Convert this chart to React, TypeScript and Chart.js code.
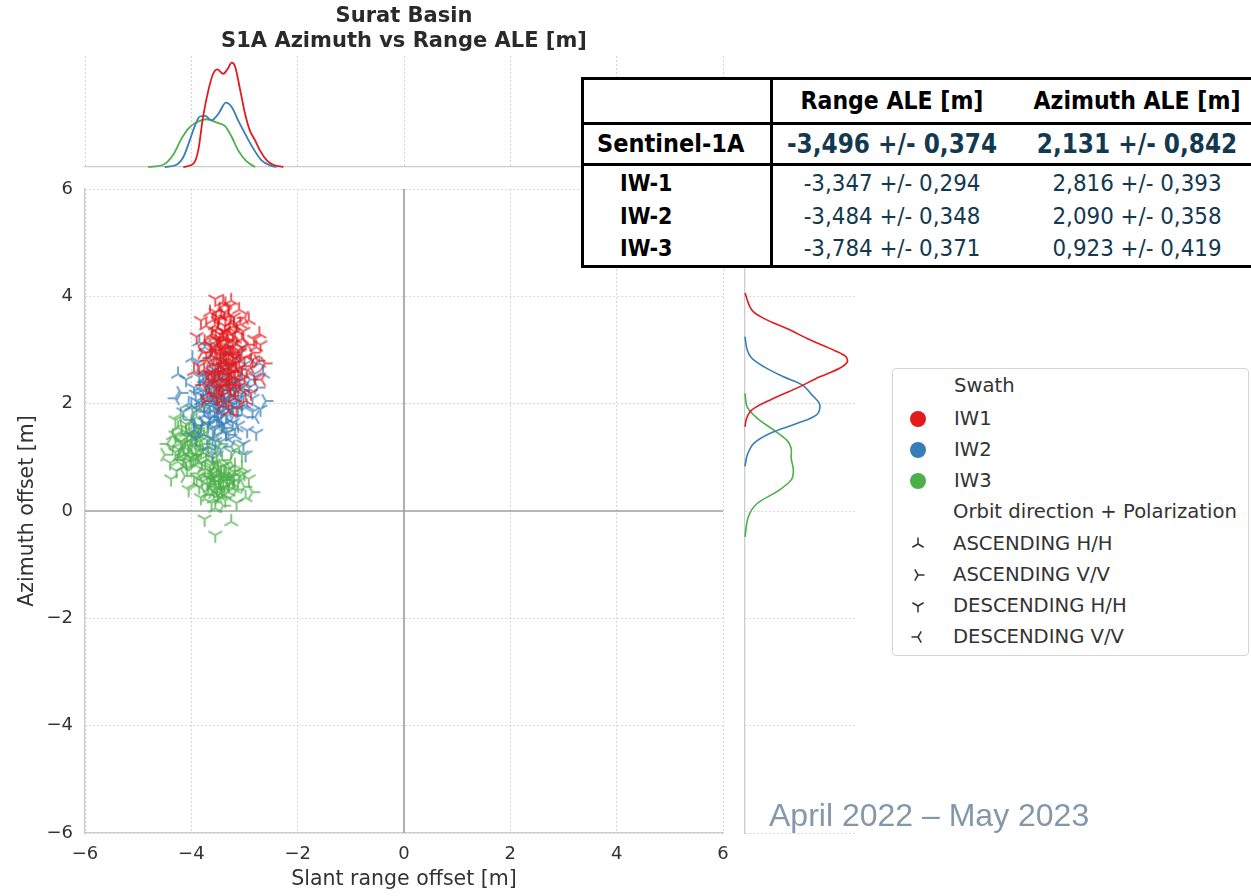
import React, { useEffect, useRef } from 'react';
import { Chart, registerables } from 'chart.js';

Chart.register(...registerables);

// ---------------- data ----------------
const swathLabels = ['IW1', 'IW2', 'IW3'];
const swathColors = ['#e41a1c', '#377eb8', '#4daf4a'];
const orbitLabels = ['ASCENDING H/H', 'ASCENDING V/V', 'DESCENDING H/H', 'DESCENDING V/V'];
const axisTicks = [-6, -4, -2, 0, 2, 4, 6];

// [slant range offset, azimuth offset, orbit/polarisation index]
const iw1Points = [
  [-3.52, 2.95, 2], [-3.48, 3.10, 0], [-3.55, 2.70, 2], [-3.60, 3.30, 0], [-3.45, 2.55, 1], [-3.50, 3.55, 2], [-3.40, 2.85, 3], [-3.58, 2.40, 0], [-3.62, 3.05, 2], [-3.47, 3.75, 0],
  [-3.22, 2.90, 2], [-3.18, 3.20, 0], [-3.25, 2.60, 1], [-3.15, 2.75, 2], [-3.28, 3.40, 0], [-3.20, 2.35, 3], [-3.12, 3.00, 2], [-3.30, 3.65, 0], [-3.24, 2.15, 1], [-3.16, 3.50, 2],
  [-3.35, 2.80, 0], [-3.38, 3.00, 2], [-3.33, 2.45, 3], [-3.42, 3.25, 0], [-3.30, 2.70, 2], [-3.36, 3.85, 0], [-3.40, 2.25, 1], [-3.32, 3.15, 2], [-3.44, 2.05, 0], [-3.37, 3.45, 2],
  [-3.70, 2.80, 3], [-3.75, 3.15, 0], [-3.68, 2.55, 2], [-3.80, 2.95, 1], [-3.72, 3.45, 0], [-3.85, 2.70, 2], [-3.65, 3.70, 0], [-3.78, 2.35, 3], [-3.90, 3.25, 2], [-3.66, 2.15, 0],
  [-3.00, 2.85, 2], [-2.95, 3.10, 1], [-3.05, 2.55, 0], [-2.90, 2.70, 3], [-3.02, 3.35, 2], [-2.85, 2.95, 1], [-3.08, 2.25, 0], [-2.80, 2.50, 2], [-2.92, 3.55, 0], [-2.75, 2.80, 1],
  [-2.70, 3.10, 2], [-2.68, 2.45, 3], [-2.62, 2.75, 1], [-2.72, 3.30, 0], [-2.88, 2.20, 2], [-3.10, 3.75, 0], [-3.55, 3.95, 2], [-3.25, 3.92, 0], [-3.45, 1.95, 1], [-3.15, 1.90, 2],
  [-3.58, 2.20, 3], [-3.50, 3.40, 0], [-3.28, 3.05, 2], [-3.42, 2.65, 1], [-3.62, 2.60, 2], [-3.20, 2.50, 0], [-3.08, 2.95, 2], [-3.35, 3.30, 3], [-3.55, 2.85, 0], [-3.12, 2.65, 2],
  [-3.95, 2.60, 0], [-3.82, 3.55, 2], [-2.98, 2.05, 0], [-2.82, 3.20, 2], [-3.48, 2.30, 2], [-3.30, 1.85, 0], [-3.75, 2.05, 1], [-3.00, 3.60, 3], [-3.60, 3.55, 0], [-3.30, 3.80, 2],
  [-3.46, 2.78, 0], [-3.34, 2.62, 2], [-3.26, 2.95, 0], [-3.52, 3.20, 2], [-3.40, 3.05, 1], [-3.18, 2.58, 2], [-3.30, 2.40, 0], [-3.56, 2.55, 2], [-3.44, 3.62, 0], [-3.22, 3.30, 2],
  [-3.14, 3.10, 0], [-3.38, 2.18, 2], [-3.58, 3.00, 1], [-3.28, 2.82, 3], [-3.48, 2.45, 0], [-3.20, 3.62, 2], [-3.64, 2.90, 0], [-3.10, 2.42, 2], [-3.05, 3.20, 0], [-3.36, 3.58, 2],
  [-3.50, 2.62, 0], [-3.24, 2.72, 2], [-3.42, 2.92, 1], [-3.32, 3.22, 0], [-3.15, 2.95, 2], [-3.62, 3.25, 0], [-3.54, 3.70, 2], [-3.40, 3.90, 0], [-3.26, 2.28, 2], [-3.66, 2.42, 1],
  [-2.96, 2.62, 2], [-3.00, 2.38, 0], [-2.85, 2.82, 2], [-2.78, 3.05, 0], [-3.72, 2.95, 2], [-3.76, 2.62, 0], [-3.46, 3.30, 2], [-3.18, 2.10, 0], [-3.52, 2.10, 2], [-3.08, 3.48, 0],
  [-3.44, 2.88, 2], [-3.36, 2.98, 0], [-3.28, 2.55, 2], [-3.50, 3.05, 0], [-3.32, 2.72, 1], [-3.22, 3.12, 2], [-3.58, 2.75, 0], [-3.40, 3.35, 2], [-3.26, 3.50, 0], [-3.46, 2.38, 2],
  [-3.54, 3.25, 0], [-3.18, 2.85, 2], [-3.34, 3.10, 0], [-3.60, 2.50, 2], [-3.14, 3.35, 0], [-3.30, 2.90, 2], [-3.42, 2.48, 0], [-3.38, 3.70, 2], [-3.24, 2.40, 0], [-3.48, 3.60, 2],
  [-3.56, 3.45, 0], [-3.10, 2.80, 2], [-3.20, 3.45, 0], [-3.52, 2.28, 2], [-3.34, 2.35, 0], [-3.64, 3.10, 2], [-3.28, 3.30, 0], [-3.46, 3.15, 2], [-3.16, 2.62, 0], [-3.40, 2.70, 2],
];

const iw2Points = [
  [-3.35, 2.10, 2], [-3.30, 1.85, 0], [-3.40, 2.35, 1], [-3.25, 2.00, 2], [-3.45, 1.70, 3], [-3.32, 2.55, 0], [-3.20, 2.25, 2], [-3.38, 1.55, 1], [-3.28, 2.70, 2], [-3.42, 1.95, 0],
  [-3.80, 2.15, 2], [-3.85, 1.90, 0], [-3.75, 2.40, 3], [-3.90, 2.05, 2], [-3.78, 1.65, 1], [-3.70, 2.60, 0], [-3.95, 2.30, 2], [-3.82, 1.45, 0], [-3.88, 2.75, 2], [-3.72, 1.85, 3],
  [-3.60, 2.05, 0], [-3.55, 2.30, 2], [-3.62, 1.75, 1], [-3.50, 2.50, 0], [-3.58, 1.50, 2], [-3.65, 2.85, 3], [-3.52, 1.90, 2], [-3.68, 2.20, 0], [-3.48, 2.70, 1], [-3.55, 1.30, 2],
  [-3.10, 2.10, 2], [-3.05, 1.80, 0], [-3.15, 2.40, 3], [-3.00, 2.25, 1], [-3.12, 1.60, 2], [-2.95, 1.95, 0], [-3.08, 2.60, 2], [-2.90, 2.45, 1], [-3.18, 1.40, 0], [-2.85, 2.10, 2],
  [-2.80, 1.75, 3], [-2.75, 2.30, 1], [-2.70, 1.90, 2], [-2.65, 2.55, 0], [-2.60, 2.05, 1], [-2.95, 1.50, 2], [-2.88, 2.80, 0], [-3.02, 1.25, 2], [-4.05, 2.00, 0], [-4.10, 2.45, 2],
  [-4.00, 1.70, 3], [-4.20, 2.20, 1], [-3.98, 2.85, 0], [-4.15, 1.85, 2], [-4.25, 2.55, 0], [-3.92, 1.35, 2], [-3.30, 3.00, 0], [-3.55, 3.10, 2], [-3.75, 3.05, 0], [-3.20, 2.85, 1],
  [-3.45, 1.15, 2], [-3.70, 1.20, 0], [-3.25, 1.20, 3], [-3.60, 1.05, 2], [-3.35, 1.35, 0], [-2.98, 1.05, 2], [-3.90, 1.60, 1], [-3.40, 2.90, 2], [-3.15, 1.95, 0], [-3.62, 2.45, 2],
  [-3.48, 2.15, 0], [-3.35, 2.80, 3], [-3.78, 2.55, 2], [-2.72, 2.75, 0], [-3.05, 3.05, 2], [-4.30, 2.10, 3], [-3.85, 3.15, 0], [-3.22, 1.65, 2], [-3.52, 1.60, 0], [-2.78, 1.45, 2],
  [-3.40, 2.05, 2], [-3.58, 2.15, 0], [-3.50, 1.80, 2], [-3.45, 2.25, 1], [-3.30, 2.30, 0], [-3.65, 1.95, 2], [-3.35, 1.65, 0], [-3.72, 2.35, 2], [-3.25, 2.45, 0], [-3.55, 2.62, 2],
  [-3.20, 1.78, 1], [-3.68, 1.60, 2], [-3.82, 2.05, 0], [-3.12, 2.25, 2], [-3.42, 1.48, 0], [-3.60, 2.40, 3], [-3.48, 1.95, 2], [-3.30, 2.05, 0], [-3.38, 2.62, 2], [-3.75, 1.78, 0],
  [-3.92, 2.18, 2], [-3.02, 2.00, 0], [-2.92, 2.30, 2], [-3.15, 1.55, 0], [-3.85, 2.50, 2], [-3.10, 2.80, 0], [-3.60, 1.35, 2], [-3.28, 1.42, 1], [-2.85, 1.85, 2], [-4.00, 1.95, 0],
  [-3.52, 2.38, 2], [-3.32, 2.20, 0], [-3.44, 1.85, 2], [-3.66, 2.20, 0], [-3.22, 1.98, 2], [-3.56, 1.70, 0], [-3.78, 2.22, 2], [-3.05, 2.45, 0], [-2.82, 2.55, 2], [-3.95, 1.50, 0],
  [-3.42, 2.12, 0], [-3.54, 2.02, 2], [-3.36, 1.92, 0], [-3.62, 2.28, 2], [-3.28, 2.15, 0], [-3.48, 1.72, 2], [-3.70, 2.05, 0], [-3.22, 2.38, 2], [-3.58, 1.88, 0], [-3.32, 1.78, 2],
  [-3.46, 2.48, 0], [-3.66, 1.72, 2], [-3.18, 2.10, 0], [-3.40, 2.28, 2], [-3.52, 2.20, 0], [-3.26, 1.88, 2], [-3.74, 2.48, 0], [-3.12, 1.90, 2], [-3.60, 2.58, 0], [-3.38, 1.62, 2],
  [-3.84, 2.30, 0], [-3.06, 2.18, 2], [-3.44, 2.60, 0], [-3.56, 1.55, 2], [-3.30, 2.50, 0], [-3.76, 1.95, 2], [-3.16, 2.32, 0], [-3.50, 2.00, 2], [-3.64, 2.10, 0], [-3.34, 2.40, 2],
];

const iw3Points = [
  [-4.05, 1.20, 2], [-4.10, 1.45, 0], [-3.95, 1.05, 1], [-4.20, 1.30, 2], [-4.00, 1.65, 0], [-4.15, 0.95, 3], [-3.90, 1.35, 2], [-4.25, 1.55, 0], [-4.08, 0.80, 2], [-3.85, 1.15, 1],
  [-4.30, 1.10, 2], [-4.35, 1.40, 0], [-4.40, 0.90, 2], [-4.45, 1.25, 3], [-4.20, 1.80, 0], [-3.98, 1.90, 2], [-4.12, 0.65, 1], [-3.80, 1.50, 0], [-4.28, 0.75, 2], [-3.92, 0.85, 0],
  [-3.55, 0.55, 2], [-3.50, 0.75, 0], [-3.60, 0.35, 1], [-3.45, 0.60, 2], [-3.65, 0.70, 3], [-3.40, 0.45, 0], [-3.58, 0.90, 2], [-3.48, 0.25, 1], [-3.70, 0.50, 2], [-3.35, 0.70, 0],
  [-3.30, 0.50, 2], [-3.25, 0.75, 1], [-3.38, 0.30, 0], [-3.20, 0.55, 2], [-3.28, 0.95, 3], [-3.15, 0.40, 1], [-3.10, 0.65, 2], [-3.05, 0.80, 0], [-3.00, 0.45, 1], [-2.92, 0.60, 2],
  [-3.75, 0.65, 0], [-3.80, 0.90, 2], [-3.72, 0.30, 1], [-3.85, 0.45, 2], [-3.68, 1.05, 0], [-3.62, 0.15, 2], [-3.78, 1.25, 1], [-3.52, 1.05, 2], [-3.42, 0.95, 0], [-3.88, 0.70, 3],
  [-3.55, 0.05, 0], [-3.75, -0.15, 2], [-3.25, -0.20, 0], [-3.55, -0.45, 2], [-3.40, 0.10, 1], [-3.15, 0.15, 2], [-3.95, 0.50, 0], [-4.05, 0.40, 2], [-2.85, 0.35, 1], [-3.05, 1.05, 2],
  [-3.60, 1.35, 0], [-3.70, 1.60, 2], [-3.45, 1.25, 1], [-3.35, 1.45, 2], [-3.90, 1.75, 0], [-4.30, 1.70, 2], [-4.50, 1.05, 1], [-4.18, 1.10, 0], [-4.02, 1.00, 2], [-3.95, 1.45, 3],
  [-3.65, 0.85, 2], [-3.48, 0.45, 0], [-3.32, 0.60, 2], [-3.18, 0.85, 0], [-3.62, 0.55, 1], [-3.82, 0.25, 2], [-2.98, 0.25, 0], [-3.10, 1.20, 2], [-3.75, 1.95, 0], [-4.38, 0.60, 2],
  [-4.02, 1.28, 2], [-4.12, 1.18, 0], [-3.96, 1.22, 1], [-4.08, 1.38, 2], [-4.18, 1.45, 0], [-3.88, 1.02, 2], [-4.22, 1.02, 0], [-4.00, 0.92, 2], [-3.94, 1.58, 0], [-4.10, 1.62, 2],
  [-4.28, 1.30, 1], [-3.84, 1.30, 2], [-4.15, 0.82, 0], [-4.35, 1.18, 2], [-3.78, 1.08, 0], [-3.56, 0.62, 2], [-3.48, 0.68, 0], [-3.62, 0.78, 2], [-3.40, 0.58, 1], [-3.52, 0.40, 2],
  [-3.66, 0.42, 0], [-3.44, 0.82, 2], [-3.34, 0.48, 0], [-3.28, 0.62, 2], [-3.58, 0.22, 0], [-3.70, 0.62, 2], [-3.22, 0.42, 0], [-3.38, 0.85, 2], [-3.50, 0.50, 3], [-3.74, 0.80, 0],
  [-3.60, 0.98, 2], [-3.30, 0.35, 0], [-3.12, 0.55, 2], [-3.45, 0.32, 0], [-3.80, 0.55, 2], [-3.72, 0.95, 0], [-3.82, 1.10, 2], [-3.66, 1.20, 0], [-3.90, 0.62, 2], [-3.76, 1.42, 0],
  [-3.55, 1.20, 2], [-3.86, 0.90, 0], [-3.25, 1.10, 2], [-3.18, 0.70, 0], [-3.00, 0.70, 2],
  [-4.06, 1.10, 0], [-4.16, 1.25, 2], [-3.98, 1.35, 0], [-4.24, 1.15, 2], [-4.04, 1.50, 0], [-3.92, 1.18, 2], [-4.14, 1.05, 0], [-4.30, 1.42, 2], [-3.86, 1.40, 0], [-4.10, 0.90, 2],
  [-4.20, 1.60, 0], [-3.96, 0.98, 2], [-4.00, 1.40, 2], [-4.26, 0.92, 0], [-3.88, 1.55, 2],
  [-3.58, 0.48, 0], [-3.46, 0.52, 2], [-3.52, 0.66, 0], [-3.64, 0.60, 2], [-3.38, 0.64, 0], [-3.42, 0.40, 2], [-3.56, 0.80, 0], [-3.30, 0.78, 2], [-3.68, 0.34, 0], [-3.50, 0.30, 2],
  [-3.24, 0.52, 0], [-3.36, 0.20, 2], [-3.60, 0.70, 2], [-3.44, 0.72, 0], [-3.20, 0.65, 2],
];

// top marginal density curves: [slant range offset, density]
const topIW1 = [
  [-4.15, 0], [-3.96, 0.03], [-3.87, 0.15], [-3.78, 0.45], [-3.68, 0.69], [-3.59, 0.84], [-3.51, 0.88], [-3.40, 0.84],
  [-3.32, 0.88], [-3.24, 0.94], [-3.18, 0.91], [-3.08, 0.69], [-2.99, 0.48], [-2.90, 0.33], [-2.80, 0.24], [-2.71, 0.15],
  [-2.58, 0.06], [-2.46, 0.02], [-2.27, 0],
];
const topIW2 = [
  [-4.50, 0], [-4.28, 0.02], [-4.15, 0.09], [-4.03, 0.24], [-3.93, 0.375], [-3.84, 0.455], [-3.74, 0.46], [-3.62, 0.42],
  [-3.49, 0.48], [-3.35, 0.58], [-3.24, 0.54], [-3.12, 0.42], [-2.99, 0.30], [-2.84, 0.17], [-2.68, 0.06], [-2.49, 0.01], [-2.40, 0],
];
const topIW3 = [
  [-4.81, 0], [-4.53, 0.02], [-4.34, 0.11], [-4.18, 0.26], [-4.03, 0.36], [-3.87, 0.41], [-3.71, 0.43], [-3.52, 0.40],
  [-3.37, 0.37], [-3.24, 0.27], [-3.12, 0.15], [-2.96, 0.05], [-2.80, 0],
];

// right marginal density curves: [density, azimuth offset]
const rightIW1 = [
  [0, 4.06], [0.06, 3.75], [0.17, 3.59], [0.38, 3.40], [0.59, 3.19], [0.77, 3.03], [0.91, 2.89], [0.93, 2.78],
  [0.86, 2.66], [0.68, 2.50], [0.47, 2.29], [0.23, 2.07], [0.06, 1.88], [0.015, 1.73], [0, 1.57],
];
const rightIW2 = [
  [0, 3.25], [0.02, 3.0], [0.06, 2.85], [0.17, 2.69], [0.35, 2.50], [0.52, 2.35], [0.61, 2.16], [0.68, 1.98],
  [0.65, 1.79], [0.47, 1.63], [0.23, 1.45], [0.08, 1.26], [0.02, 1.04], [0, 0.83],
];
const rightIW3 = [
  [0, 2.19], [0.02, 1.94], [0.11, 1.73], [0.26, 1.51], [0.38, 1.32], [0.42, 1.17], [0.42, 0.98], [0.44, 0.76],
  [0.42, 0.58], [0.29, 0.36], [0.11, 0.14], [0.03, -0.11], [0, -0.48],
];

const tableHeader = ['', 'Range ALE [m]', 'Azimuth ALE [m]'];
const tableTotal = ['Sentinel-1A', '-3,496 +/- 0,374', '2,131 +/- 0,842'];
const tableRows = [
  ['IW-1', '-3,347 +/- 0,294', '2,816 +/- 0,393'],
  ['IW-2', '-3,484 +/- 0,348', '2,090 +/- 0,358'],
  ['IW-3', '-3,784 +/- 0,371', '0,923 +/- 0,419'],
];

const titleLines = ['Surat Basin', 'S1A Azimuth vs Range ALE [m]'];
const xTitle = 'Slant range offset [m]';
const yTitle = 'Azimuth offset [m]';
const periodText = 'April 2022 \u2013 May 2023';

// ---------------- helpers ----------------
const TRI_DIRS = [
  [[0, -1], [-0.866, 0.5], [0.866, 0.5]], // tri up
  [[1, 0], [-0.5, -0.866], [-0.5, 0.866]], // tri right
  [[0, 1], [-0.866, -0.5], [0.866, -0.5]], // tri down
  [[-1, 0], [0.5, -0.866], [0.5, 0.866]], // tri left
];

function makeMarker(kind: number, color: string, alpha: number) {
  const size = 20;
  const r = 7.8;
  const c = document.createElement('canvas');
  c.width = size;
  c.height = size;
  const g = c.getContext('2d')!;
  g.globalAlpha = alpha;
  g.strokeStyle = color;
  g.lineWidth = 2;
  g.beginPath();
  for (const [dx, dy] of TRI_DIRS[kind]) {
    g.moveTo(size / 2, size / 2);
    g.lineTo(size / 2 + dx * r, size / 2 + dy * r);
  }
  g.stroke();
  return c;
}

const FONT = "'DejaVu Sans', sans-serif";
const TEXT = '#333333';
const GRID = '#d6d6d6';
const SPINE = '#cccccc';

const minusFmt = (v: any) => String(v).replace('-', '\u2212');

const zeroLines = {
  id: 'zeroLines',
  beforeDatasetsDraw(chart: any) {
    const { ctx, chartArea: a, scales } = chart;
    const px = scales.x.getPixelForValue(0);
    const py = scales.y.getPixelForValue(0);
    ctx.save();
    ctx.strokeStyle = '#a3a3a3';
    ctx.lineWidth = 1.7;
    ctx.beginPath();
    ctx.moveTo(px, a.top);
    ctx.lineTo(px, a.bottom);
    ctx.moveTo(a.left, py);
    ctx.lineTo(a.right, py);
    ctx.stroke();
    ctx.restore();
  },
};

function fixSize(w: number | null, h: number | null) {
  return (s: any) => {
    if (w !== null) s.width = w;
    if (h !== null) s.height = h;
    s.paddingLeft = 0;
    s.paddingRight = 0;
    s.paddingTop = 0;
    s.paddingBottom = 0;
  };
}

function TriIcon({ kind }: { kind: number }) {
  const r = 6.5;
  return (
    <svg width={20} height={20} style={{ position: 'absolute', left: 15, top: -10 }}>
      {TRI_DIRS[kind].map(([dx, dy], i) => (
        <line key={i} x1={10} y1={10} x2={10 + dx * r} y2={10 + dy * r} stroke="#333" strokeWidth={1.5} />
      ))}
    </svg>
  );
}

export default function App() {
  const topRef = useRef<HTMLCanvasElement>(null);
  const mainRef = useRef<HTMLCanvasElement>(null);
  const rightRef = useRef<HTMLCanvasElement>(null);

  useEffect(() => {
    const charts: Chart[] = [];
    const allPoints = [iw1Points, iw2Points, iw3Points];
    const markers = swathColors.map((c) => [0, 1, 2, 3].map((k) => makeMarker(k, c, 0.7)));

    // main scatter
    charts.push(
      new Chart(mainRef.current!, {
        type: 'scatter',
        data: {
          datasets: allPoints.map((pts, i) => ({
            label: swathLabels[i],
            data: pts.map((p) => ({ x: p[0], y: p[1] })),
            pointStyle: pts.map((p) => markers[i][p[2]]) as any,
            pointRadius: 4,
            order: i,
          })),
        },
        options: {
          animation: false,
          responsive: false,
          events: [],
          layout: { padding: { left: 0, right: 17, top: 19, bottom: 0 } },
          plugins: { legend: { display: false }, tooltip: { enabled: false } },
          scales: {
            x: {
              type: 'linear',
              min: -6,
              max: 6,
              afterBuildTicks: (s: any) => { s.ticks = axisTicks.map((v) => ({ value: v })); },
              afterFit: fixSize(null, 63),
              ticks: { callback: minusFmt, color: TEXT, font: { family: FONT, size: 18 }, padding: 11, maxRotation: 0 },
              grid: { color: GRID, lineWidth: 1, drawTicks: false },
              border: { display: true, color: SPINE, width: 1.3, dash: [2, 2] },
              title: { display: true, text: xTitle, color: TEXT, font: { family: FONT, size: 20.5 }, padding: { top: 0, bottom: 3.7 } },
            },
            y: {
              type: 'linear',
              min: -6,
              max: 6,
              afterBuildTicks: (s: any) => { s.ticks = axisTicks.map((v) => ({ value: v })); },
              afterFit: fixSize(85, null),
              ticks: { callback: minusFmt, color: TEXT, font: { family: FONT, size: 18 }, padding: 12 },
              grid: { color: GRID, lineWidth: 1, drawTicks: false },
              border: { display: true, color: SPINE, width: 1.3, dash: [2, 2] },
              title: { display: true, text: yTitle, color: TEXT, font: { family: FONT, size: 20.5 }, padding: { top: 15.7, bottom: 0 } },
            },
          },
        } as any,
        plugins: [zeroLines],
      })
    );

    // top marginal
    const topSets = [topIW1, topIW2, topIW3];
    charts.push(
      new Chart(topRef.current!, {
        type: 'scatter',
        data: {
          datasets: topSets.map((pts, i) => ({
            label: swathLabels[i],
            data: pts.map((p) => ({ x: p[0], y: p[1] })),
            showLine: true,
            borderColor: swathColors[i],
            borderWidth: 1.8,
            pointRadius: 0,
            cubicInterpolationMode: 'monotone',
            clip: false,
            order: i,
          })),
        },
        options: {
          animation: false,
          responsive: false,
          events: [],
          layout: { padding: { left: 85, right: 17, top: 0, bottom: 3 } },
          plugins: {
            legend: { display: false },
            tooltip: { enabled: false },
            title: {
              display: true,
              text: titleLines,
              color: '#2a2a2a',
              font: { family: FONT, size: 21, weight: 'bold', lineHeight: 1.2 },
              padding: { top: 4, bottom: 1.6 },
            },
          },
          scales: {
            x: {
              type: 'linear',
              min: -6,
              max: 6,
              afterBuildTicks: (s: any) => { s.ticks = axisTicks.map((v) => ({ value: v })); },
              afterFit: fixSize(null, 0),
              ticks: { display: false },
              grid: { color: GRID, lineWidth: 1, drawTicks: false },
              border: { display: true, color: SPINE, width: 1.3, dash: [2, 2] },
            },
            y: { type: 'linear', min: 0, max: 1, display: false },
          },
        } as any,
      })
    );

    // right marginal
    const rightSets = [rightIW1, rightIW2, rightIW3];
    charts.push(
      new Chart(rightRef.current!, {
        type: 'scatter',
        data: {
          datasets: rightSets.map((pts, i) => ({
            label: swathLabels[i],
            data: pts.map((p) => ({ x: p[0], y: p[1] })),
            showLine: true,
            borderColor: swathColors[i],
            borderWidth: 1.6,
            pointRadius: 0,
            tension: 0.35,
            clip: false,
            order: i,
          })),
        },
        options: {
          animation: false,
          responsive: false,
          events: [],
          layout: { padding: { left: 10, right: 10, top: 19, bottom: 63 } },
          plugins: { legend: { display: false }, tooltip: { enabled: false } },
          scales: {
            x: { type: 'linear', min: 0, max: 1, display: false },
            y: {
              type: 'linear',
              min: -6,
              max: 6,
              afterBuildTicks: (s: any) => { s.ticks = axisTicks.map((v) => ({ value: v })); },
              afterFit: fixSize(0, null),
              ticks: { display: false },
              grid: { color: GRID, lineWidth: 1, drawTicks: false },
              border: { display: true, color: SPINE, width: 1.3, dash: [2, 2] },
            },
          },
        } as any,
      })
    );

    return () => charts.forEach((c) => c.destroy());
  }, []);

  const tableFont = "'DejaVu Sans Condensed', 'DejaVu Sans', sans-serif";
  const teal = '#12394f';
  const col2 = { left: 772, width: 240 };
  const col3 = { left: 1017, width: 240 };
  const cell = (text: string, left: number, width: number, cy: number, style: any, align: any = 'center') => (
    <div
      style={{
        position: 'absolute',
        left,
        width,
        top: cy - 16,
        height: 32,
        lineHeight: '32px',
        textAlign: align,
        whiteSpace: 'nowrap',
        fontFamily: tableFont,
        ...style,
      }}
    >
      {text}
    </div>
  );

  const legendRows = [385, 418, 449, 480, 511, 543, 574, 605, 636];
  const legText = { position: 'absolute' as const, whiteSpace: 'nowrap' as const, fontFamily: FONT, fontSize: 19.6, color: TEXT, lineHeight: '24px' };

  return (
    <div style={{ position: 'fixed', left: 0, top: 0, width: 1251, height: 896, background: '#ffffff', overflow: 'hidden' }}>
      <canvas ref={topRef} width={740} height={170} style={{ position: 'absolute', left: 0, top: 0, width: 740, height: 170 }} />
      <canvas ref={mainRef} width={740} height={726} style={{ position: 'absolute', left: 0, top: 170, width: 740, height: 726 }} />
      <canvas ref={rightRef} width={130} height={726} style={{ position: 'absolute', left: 735, top: 170, width: 130, height: 726 }} />

      {/* statistics table */}
      <div style={{ position: 'absolute', left: 581, top: 77, width: 680, height: 191, background: '#fff', border: '3px solid #000', boxSizing: 'border-box' }} />
      <div style={{ position: 'absolute', left: 581, top: 122, width: 680, height: 3, background: '#000' }} />
      <div style={{ position: 'absolute', left: 581, top: 163, width: 680, height: 3, background: '#000' }} />
      <div style={{ position: 'absolute', left: 770, top: 77, width: 3, height: 191, background: '#000' }} />
      {cell(tableHeader[1], col2.left, col2.width, 101, { fontSize: 24.5, color: '#000', fontWeight: 'bold' })}
      {cell(tableHeader[2], col3.left, col3.width, 101, { fontSize: 24.5, color: '#000', fontWeight: 'bold' })}
      {cell(tableTotal[0], 597, 170, 144, { fontSize: 25, color: '#000', fontWeight: 'bold' }, 'left')}
      {cell(tableTotal[1], col2.left, col2.width, 144, { fontSize: 25.8, color: teal, fontWeight: 'bold' })}
      {cell(tableTotal[2], col3.left, col3.width, 144, { fontSize: 25.8, color: teal, fontWeight: 'bold' })}
      {tableRows.map((r, i) => {
        const cy = 183 + i * 32.5;
        return (
          <React.Fragment key={r[0]}>
            {cell(r[0], 620, 120, cy, { fontSize: 23, color: '#000', fontWeight: 'bold' }, 'left')}
            {cell(r[1], col2.left, col2.width, cy, { fontSize: 23.8, color: teal })}
            {cell(r[2], col3.left, col3.width, cy, { fontSize: 23.8, color: teal })}
          </React.Fragment>
        );
      })}

      {/* legend */}
      <div style={{ position: 'absolute', left: 892, top: 368, width: 357, height: 288, border: '1px solid #d4d4d4', borderRadius: 4, boxSizing: 'border-box', background: '#fff' }}>
        {legendRows.map((cy, i) => {
          const top = cy - 368;
          let content: any = null;
          if (i === 0) content = <div style={{ ...legText, left: 61, top: top - 12 }}>Swath</div>;
          else if (i <= 3) {
            content = (
              <>
                <div style={{ position: 'absolute', left: 17, top: top - 8, width: 16, height: 16, borderRadius: 8, background: swathColors[i - 1] }} />
                <div style={{ ...legText, left: 61, top: top - 12 }}>{swathLabels[i - 1]}</div>
              </>
            );
          } else if (i === 4) content = <div style={{ ...legText, left: 60, top: top - 12 }}>Orbit direction + Polarization</div>;
          else {
            content = (
              <div style={{ position: 'absolute', left: 0, top }}>
                <TriIcon kind={i - 5} />
                <div style={{ ...legText, left: 60, top: -12 }}>{orbitLabels[i - 5]}</div>
              </div>
            );
          }
          return <React.Fragment key={i}>{content}</React.Fragment>;
        })}
      </div>

      {/* period */}
      <div style={{ position: 'absolute', left: 769, top: 794, fontFamily: "'Liberation Sans', Arial, sans-serif", fontSize: 32, color: '#8398aa', whiteSpace: 'nowrap', lineHeight: '42px' }}>
        {periodText}
      </div>
    </div>
  );
}
